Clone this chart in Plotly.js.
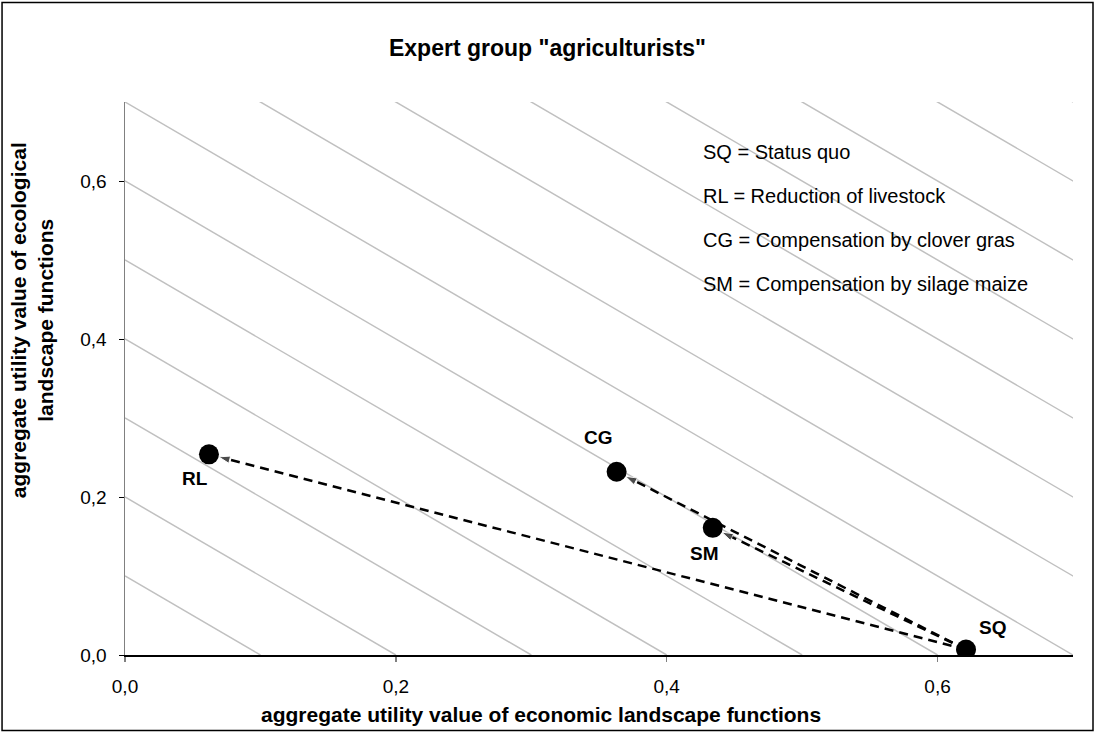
<!DOCTYPE html>
<html>
<head>
<meta charset="utf-8">
<script src="https://cdn.plot.ly/plotly-3.0.1.min.js"></script>
<style>
html,body{margin:0;padding:0;background:#fff;}
#chart{width:1095px;height:733px;}
</style>
</head>
<body>
<div id="chart"></div>
<script>
// ---- data ----
const scenarios = ['SQ', 'RL', 'CG', 'SM'];
const economicValue = [0.621, 0.062, 0.363, 0.434];
const ecologicalValue = [0.007, 0.254, 0.232, 0.161];
const transitionFrom = ['SQ', 'SQ', 'SQ'];
const transitionTo = ['RL', 'SM', 'CG'];
const isoLevels = [0.1, 0.2, 0.3, 0.4, 0.5, 0.6, 0.7, 0.8, 0.9, 1.0, 1.1, 1.2, 1.3, 1.4];
const legendCodes = ['SQ', 'RL', 'CG', 'SM'];
const legendNames = ['Status quo', 'Reduction of livestock', 'Compensation by clover gras', 'Compensation by silage maize'];
const xTickValues = [0, 0.2, 0.4, 0.6];
const yTickValues = [0, 0.2, 0.4, 0.6];
const chartTitle = 'Expert group "agriculturists"';
const xTitle = 'aggregate utility value of economic landscape functions';
const yTitle = 'aggregate utility value of ecological<br>landscape functions';

const FONT = 'Liberation Sans, Arial, sans-serif';
const traces = [];

// iso-utility lines x + y = c
isoLevels.forEach(c => {
  traces.push({
    x: [0, c], y: [c, 0], mode: 'lines', hoverinfo: 'skip', showlegend: false,
    line: {color: '#c0c0c0', width: 1.5}
  });
});

// transitions (dashed arrows)
const idx = s => scenarios.indexOf(s);
transitionFrom.forEach((f, i) => {
  const a = idx(f), b = idx(transitionTo[i]);
  traces.push({
    x: [economicValue[a], economicValue[b]],
    y: [ecologicalValue[a], ecologicalValue[b]],
    mode: 'lines+markers', hoverinfo: 'skip', showlegend: false,
    line: {color: '#000', width: 2.5, dash: '9px,6px'},
    marker: {symbol: 'arrow', size: [0, 12], color: '#000', angleref: 'previous', standoff: 10}
  });
});

// scenario points
traces.push({
  x: economicValue, y: ecologicalValue, mode: 'markers', showlegend: false,
  marker: {color: '#000', size: 20}, hoverinfo: 'text', text: scenarios
});

// point labels
const labelShift = {SQ: [26, -22], RL: [-14, 24], CG: [-18, -34], SM: [-8, 26]};
const annotations = scenarios.map((s, i) => ({
  x: economicValue[i], y: ecologicalValue[i], xref: 'x', yref: 'y',
  text: s, showarrow: false, xshift: labelShift[s][0], yshift: -labelShift[s][1],
  font: {family: FONT, size: 19, color: '#000', weight: 'bold'}
}));

// legend text block
legendCodes.forEach((c, i) => {
  annotations.push({
    xref: 'paper', yref: 'paper', x: 0.608, y: 0.909 - i * 0.0795, xanchor: 'left', yanchor: 'middle',
    text: c + ' = ' + legendNames[i], showarrow: false,
    font: {family: FONT, size: 20, color: '#000'}
  });
});

// axis titles
annotations.push({
  xref: 'paper', yref: 'paper', x: 0.439, y: -0.108, xanchor: 'center', yanchor: 'middle',
  text: xTitle, showarrow: false, font: {family: FONT, size: 21, color: '#000', weight: 'bold'}
});
annotations.push({
  xref: 'paper', yref: 'paper', x: -0.098, y: 0.6056, xanchor: 'center', yanchor: 'middle',
  text: yTitle, textangle: -90, showarrow: false,
  font: {family: FONT, size: 21, color: '#000', weight: 'bold'}
});

const layout = {
  width: 1095, height: 733,
  paper_bgcolor: '#fff', plot_bgcolor: '#fff',
  margin: {l: 125, r: 22, t: 102, b: 78},
  title: {text: chartTitle, x: 0.5, xref: 'container', y: 0.934, yref: 'container', yanchor: 'middle',
          font: {family: FONT, size: 23, color: '#000', weight: 'bold'}},
  xaxis: {
    range: [0, 0.7], tickvals: xTickValues, tickformat: '.1f',
    showgrid: false, zeroline: false, showline: true, linecolor: '#000', linewidth: 1.5,
    ticks: 'outside', ticklen: 5, tickcolor: '#808080', tickwidth: 1.5,
    ticklabelstandoff: 9,
    tickfont: {family: FONT, size: 19, color: '#000'}
  },
  yaxis: {
    range: [0, 0.7], tickvals: yTickValues, tickformat: '.1f',
    showgrid: false, zeroline: false, showline: true, linecolor: '#808080', linewidth: 1.5,
    ticks: 'outside', ticklen: 5, tickcolor: '#000', tickwidth: 1,
    ticklabelstandoff: 8,
    tickfont: {family: FONT, size: 19, color: '#000'}
  },
  separators: ', ',
  annotations: annotations,
  shapes: [{type: 'rect', xref: 'paper', yref: 'paper', x0: -0.1297, x1: 1.0211, y0: -0.1367, y1: 1.18,
            line: {color: '#000', width: 1.5}, fillcolor: 'rgba(0,0,0,0)'}]
};

Plotly.newPlot('chart', traces, layout, {displayModeBar: false, staticPlot: true});
</script>
</body>
</html>
